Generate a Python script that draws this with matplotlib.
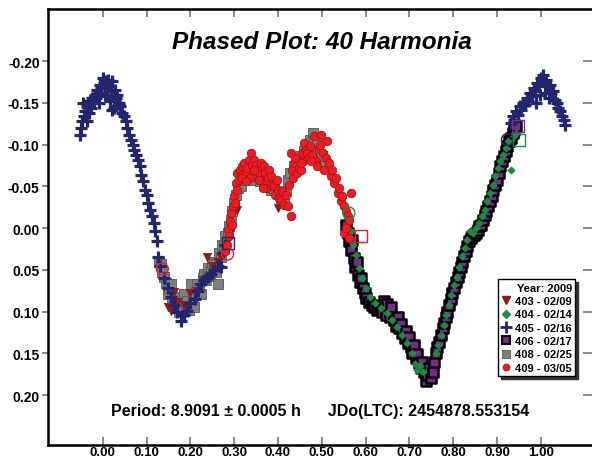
import matplotlib
matplotlib.use("Agg")
import matplotlib.pyplot as plt
from matplotlib.lines import Line2D

plt.rcParams['font.family'] = ['Liberation Sans', 'DejaVu Sans']
plt.rcParams['font.weight'] = 'bold'

# ---------------- data (phase, magnitude) ----------------
# 405 - 02/16 (blue plus)
s405_x = [-0.052, -0.050, -0.047, -0.045, -0.043, -0.040, -0.037, -0.035, -0.032, -0.030,
          -0.027, -0.024, -0.021, -0.018, -0.015, -0.012, -0.009, -0.006, -0.003, 0.000,
          0.003, 0.006, 0.009, 0.012, 0.015, 0.018, 0.021, 0.024, 0.027, 0.030,
          0.033, 0.036, 0.040, 0.044, 0.048, 0.052, 0.056, 0.060, 0.064, 0.068,
          0.072, 0.076, 0.080, 0.084, 0.088, 0.092, 0.096, 0.100, 0.104, 0.108,
          0.112, 0.116, 0.120, 0.124, 0.005, 0.010, 0.016, -0.008, 0.026, 0.020,
          0.125, 0.130, 0.140, 0.150, 0.155, 0.162, 0.170, 0.178, 0.185, 0.193,
          0.200, 0.210, 0.218, 0.224, 0.232, 0.240, 0.247, 0.255, 0.262, 0.269,
          0.275, 0.280,
          0.932, 0.936, 0.940, 0.944, 0.948, 0.952, 0.956, 0.960, 0.964, 0.968,
          0.972, 0.976, 0.980, 0.984, 0.988, 0.992, 0.996, 1.000, 1.004, 1.008,
          1.012, 1.016, 1.020, 1.024, 1.028, 1.032, 1.036, 1.040, 1.044, 1.048,
          1.052, 1.056, 0.998, 1.010, 0.990, 1.018]
s405_y = [-0.112, -0.120, -0.128, -0.150, -0.134, -0.140, -0.128, -0.146, -0.138, -0.152,
          -0.144, -0.156, -0.150, -0.160, -0.156, -0.166, -0.162, -0.172, -0.168, -0.180,
          -0.174, -0.176, -0.168, -0.178, -0.170, -0.164, -0.176, -0.160, -0.166, -0.156,
          -0.160, -0.150, -0.146, -0.138, -0.134, -0.128, -0.120, -0.112, -0.106, -0.100,
          -0.094, -0.088, -0.082, -0.074, -0.064, -0.056, -0.046, -0.040, -0.030, -0.022,
          -0.014, -0.006, 0.004, 0.016, -0.160, -0.158, -0.152, -0.150, -0.144, -0.142,
          0.035, 0.045, 0.060, 0.072, 0.083, 0.092, 0.100, 0.111, 0.104, 0.099,
          0.090, 0.085, 0.075, 0.067, 0.062, 0.058, 0.055, 0.050, 0.045, 0.047,
          0.030, 0.020,
          -0.126, -0.134, -0.130, -0.140, -0.136, -0.146, -0.142, -0.150, -0.148, -0.156,
          -0.152, -0.162, -0.158, -0.168, -0.164, -0.174, -0.170, -0.180, -0.184, -0.176,
          -0.178, -0.170, -0.172, -0.162, -0.164, -0.154, -0.150, -0.144, -0.140, -0.134,
          -0.130, -0.124, -0.160, -0.162, -0.150, -0.156]

# 408 - 02/25 (gray square)
s408_x = [0.128, 0.132, 0.136, 0.140, 0.144, 0.148, 0.152, 0.155, 0.158, 0.163,
          0.166, 0.171, 0.175, 0.180, 0.186, 0.190, 0.193, 0.198, 0.201, 0.205,
          0.208, 0.212, 0.216, 0.220, 0.224, 0.228, 0.231, 0.236, 0.240, 0.244,
          0.247, 0.250, 0.254, 0.258, 0.262, 0.265, 0.269, 0.272, 0.276, 0.280,
          0.285, 0.288, 0.292, 0.296, 0.300, 0.304, 0.308, 0.315, 0.322, 0.330,
          0.338, 0.345, 0.353, 0.360, 0.368, 0.376, 0.384, 0.391, 0.399, 0.406,
          0.414, 0.418, 0.422, 0.428, 0.437, 0.444, 0.452, 0.460, 0.467, 0.473,
          0.479, 0.483, 0.486, 0.490, 0.495, 0.500]
s408_y = [0.040, 0.043, 0.052, 0.059, 0.066, 0.079, 0.072, 0.067, 0.088, 0.083,
          0.094, 0.091, 0.100, 0.095, 0.079, 0.090, 0.087, 0.098, 0.067, 0.082,
          0.095, 0.076, 0.067, 0.072, 0.079, 0.060, 0.055, 0.062, 0.048, 0.057,
          0.051, 0.040, 0.043, 0.052, 0.067, 0.030, 0.035, 0.020, 0.022, 0.010,
          0.006, -0.002, -0.010, -0.020, -0.030, -0.040, -0.048, -0.050, -0.058, -0.062,
          -0.066, -0.058, -0.062, -0.056, -0.060, -0.054, -0.046, -0.048, -0.042, -0.036,
          -0.034, -0.045, -0.058, -0.066, -0.074, -0.080, -0.086, -0.092, -0.098, -0.106,
          -0.114, -0.104, -0.092, -0.100, -0.080, -0.086]

# 406 - 02/17 (purple square)
s406_x = [0.556, 0.560, 0.563, 0.566, 0.570, 0.573, 0.576, 0.580, 0.583, 0.587,
          0.590, 0.594, 0.598, 0.602, 0.608, 0.614, 0.620, 0.626, 0.632, 0.638,
          0.642, 0.646, 0.650, 0.655, 0.658, 0.664, 0.669, 0.673, 0.677, 0.680,
          0.684, 0.689, 0.692, 0.696, 0.700, 0.703, 0.707, 0.711, 0.715, 0.718,
          0.722, 0.726, 0.730, 0.734, 0.737, 0.741, 0.745, 0.749, 0.753,
          0.757, 0.760, 0.764, 0.768, 0.772, 0.776, 0.779, 0.783, 0.787, 0.791,
          0.795, 0.798, 0.802, 0.806, 0.810, 0.814, 0.817, 0.821, 0.825, 0.829,
          0.832, 0.836, 0.840, 0.844, 0.848, 0.852, 0.856, 0.860, 0.864, 0.868,
          0.872, 0.876, 0.880, 0.884, 0.888, 0.892, 0.896, 0.900, 0.904, 0.908,
          0.912, 0.916, 0.920, 0.924, 0.928, 0.932, 0.936, 0.940, 0.944]
s406_y = [-0.004, 0.006, 0.016, 0.026, 0.014, 0.036, 0.046, 0.040, 0.056, 0.064,
          0.060, 0.072, 0.078, 0.084, 0.088, 0.092, 0.094, 0.098, 0.096, 0.100,
          0.087, 0.104, 0.091, 0.106, 0.095, 0.110, 0.117, 0.107, 0.120, 0.115,
          0.126, 0.132, 0.123, 0.138, 0.130, 0.143, 0.150, 0.140, 0.156, 0.151,
          0.162, 0.168, 0.160, 0.172, 0.183, 0.176, 0.168, 0.180, 0.172,
          0.160, 0.150, 0.143, 0.136, 0.128, 0.120, 0.114, 0.106, 0.100, 0.092,
          0.085, 0.078, 0.072, 0.065, 0.058, 0.052, 0.046, 0.040, 0.034, 0.028,
          0.022, 0.016, 0.012, 0.010, 0.008, 0.006, 0.002, -0.002, -0.004, -0.010,
          -0.016, -0.020, -0.026, -0.032, -0.038, -0.046, -0.052, -0.058, -0.066, -0.074,
          -0.080, -0.086, -0.092, -0.098, -0.104, -0.108, -0.114, -0.118, -0.122]

# 403 - 02/09 (dark red triangle)
s403_x = [0.150, 0.155, 0.163, 0.170, 0.185, 0.200, 0.216, 0.230, 0.239, 0.250,
          0.262, 0.270, 0.278, 0.290, 0.300, 0.307, 0.399]
s403_y = [0.095, 0.099, 0.077, 0.088, 0.092, 0.078, 0.075, 0.062, 0.035, 0.045,
          0.040, 0.035, 0.025, 0.005, -0.025, -0.022, -0.024]

# 404 - 02/14 (green diamond)
s404_x = [0.560, 0.566, 0.572, 0.578, 0.585, 0.592, 0.600, 0.610, 0.622, 0.635,
          0.648, 0.660, 0.672, 0.684, 0.695, 0.705, 0.712, 0.718, 0.725, 0.732,
          0.760, 0.766, 0.772, 0.778, 0.784, 0.790, 0.796, 0.802, 0.808, 0.814,
          0.820, 0.826, 0.832, 0.838, 0.845, 0.852, 0.858, 0.865, 0.872, 0.878,
          0.884, 0.890, 0.896, 0.902, 0.908, 0.914, 0.920, 0.926, 0.932, 0.938, 0.944]
s404_y = [-0.010, 0.004, 0.020, 0.032, 0.048, 0.060, 0.072, 0.082, 0.090, 0.096,
          0.102, 0.110, 0.118, 0.128, 0.138, 0.150, 0.163, 0.170, 0.165, 0.172,
          0.150, 0.140, 0.128, 0.116, 0.104, 0.092, 0.080, 0.068, 0.058, 0.046,
          0.034, 0.024, 0.014, 0.004, 0.006, 0.000, -0.006, -0.014, -0.022, -0.032,
          -0.042, -0.052, -0.062, -0.072, -0.080, -0.088, -0.096, -0.104, -0.070, -0.110, -0.114]

# 409 - 03/05 (red circle)
s409_x = [0.280, 0.283, 0.285, 0.288, 0.290, 0.292, 0.295, 0.297, 0.300, 0.302,
          0.304, 0.306, 0.307, 0.310, 0.313, 0.316, 0.319, 0.323, 0.326, 0.330,
          0.333, 0.336, 0.338, 0.341, 0.345, 0.348, 0.351, 0.355, 0.358, 0.361,
          0.364, 0.368, 0.371, 0.374, 0.377, 0.380, 0.384, 0.387, 0.391, 0.394,
          0.397, 0.400, 0.403, 0.406, 0.410, 0.414, 0.418, 0.422, 0.425, 0.429,
          0.429, 0.432, 0.435, 0.437, 0.440, 0.444, 0.448, 0.452, 0.455, 0.458,
          0.460, 0.464, 0.467, 0.470, 0.474, 0.478, 0.483, 0.486, 0.490, 0.494,
          0.498, 0.502, 0.505, 0.509, 0.513, 0.516, 0.521, 0.524, 0.528, 0.532,
          0.536, 0.540, 0.543, 0.547, 0.551, 0.555, 0.559, 0.562, 0.566, 0.551,
          0.556, 0.562, 0.318, 0.328, 0.345, 0.356, 0.366, 0.452, 0.476, 0.495]
s409_y = [0.028, 0.020, 0.002, 0.010, -0.008, -0.018, -0.004, -0.026, -0.038, -0.030,
          -0.054, -0.046, -0.066, -0.058, -0.070, -0.062, -0.074, -0.078, -0.066, -0.072,
          -0.082, -0.060, -0.090, -0.076, -0.082, -0.068, -0.076, -0.070, -0.064, -0.078,
          -0.056, -0.074, -0.066, -0.048, -0.060, -0.070, -0.062, -0.052, -0.050, -0.040,
          -0.058, -0.046, -0.036, -0.034, -0.044, -0.028, -0.040, -0.026, -0.052, -0.014,
          -0.090, -0.070, -0.060, -0.078, -0.084, -0.066, -0.072, -0.070, -0.090, -0.080,
          -0.102, -0.094, -0.090, -0.084, -0.098, -0.088, -0.110, -0.080, -0.074, -0.096,
          -0.112, -0.090, -0.070, -0.084, -0.104, -0.078, -0.062, -0.070, -0.054, -0.060,
          -0.042, -0.048, -0.032, -0.038, -0.026, -0.020, -0.014, -0.010, -0.042, 0.006,
          0.000, 0.012, -0.060, -0.056, -0.070, -0.058, -0.048, -0.078, -0.080, -0.100]

# first-point (open) markers of the sessions
open_session = ['405', '404', '406', '409', '404', '409', '409', '405']
open_shape = ['o', 's', 's', 's', 'o', 'o', 'o', 's']
open_x = [0.924, 0.950, 0.947, 0.589, 0.562, 0.136, 0.285, 0.285]
open_y = [-0.106, -0.106, -0.122, 0.010, -0.018, 0.049, 0.031, 0.018]

legend_labels = ['403 - 02/09', '404 - 02/14', '405 - 02/16',
                 '406 - 02/17', '408 - 02/25', '409 - 03/05']
x_ticks = [0.00, 0.10, 0.20, 0.30, 0.40, 0.50, 0.60, 0.70, 0.80, 0.90, 1.00]
y_ticks = [-0.20, -0.15, -0.10, -0.05, 0.00, 0.05, 0.10, 0.15, 0.20]

title_text = 'Phased Plot: 40 Harmonia'
footer_text = 'Period: 8.9091 \u00b1 0.0005 h      JDo(LTC): 2454878.553154'
legend_title = 'Year: 2009'

# ---------------- styles ----------------
colors = {'403': '#8B1A1A', '404': '#1E8A45', '405': '#25256E',
          '406': '#7A2A8A', '408': '#7F7F7F', '409': '#EC1C24'}

fig = plt.figure(figsize=(5.92, 4.64), dpi=100)
ax = fig.add_axes([48 / 592, 18 / 464, 547.5 / 592, 436 / 464])

ax.scatter(s408_x, s408_y, marker='s', s=52, c=colors['408'], edgecolors='#555555',
           linewidths=0.6, zorder=2)
ax.scatter(s406_x, s406_y, marker='s', s=44, c=colors['406'], edgecolors='black',
           linewidths=1.8, zorder=3)
ax.scatter(s403_x, s403_y, marker='v', s=36, c=colors['403'], edgecolors=colors['403'],
           linewidths=0.5, zorder=4)
ax.scatter(s404_x, s404_y, marker='D', s=14, c=colors['404'], edgecolors=colors['404'],
           linewidths=0.5, zorder=4)
ax.scatter(s405_x, s405_y, marker='+', s=75, c=colors['405'], linewidths=2.3, zorder=5)
ax.scatter(s409_x, s409_y, marker='o', s=38, c=colors['409'], edgecolors='#9E1010',
           linewidths=0.5, zorder=6)
for sess, shp, xx, yy in zip(open_session, open_shape, open_x, open_y):
    ax.scatter([xx], [yy], marker=shp, s=75, facecolors='none', edgecolors=colors[sess],
               linewidths=1.0, zorder=7)

ax.set_xlim(-0.125, 1.125)
ax.set_ylim(0.2599, -0.2626)

ax.set_xticks(x_ticks)
ax.set_xticklabels(['%.2f' % v for v in x_ticks])
ax.set_yticks(y_ticks)
ax.set_yticklabels(['%.2f' % v for v in y_ticks])
ax.tick_params(axis='x', direction='in', length=6, width=1.2, color='#777777',
               top=True, labelsize=9.5, pad=1)
ax.tick_params(axis='y', direction='out', length=4, width=1.2, color='#777777',
               labelsize=10, pad=2)
for t in ax.get_xticklabels() + ax.get_yticklabels():
    t.set_fontweight('bold')

for side in ['left', 'top', 'bottom', 'right']:
    ax.spines[side].set_linewidth(1.8)

# right-side ticks pointing inward
axr = ax.twinx()
axr.set_ylim(ax.get_ylim())
axr.set_yticks(y_ticks)
axr.tick_params(axis='y', direction='in', length=9, width=1.2, color='#777777',
                labelright=False)
axr.set_zorder(ax.get_zorder() - 1)

ax.text(0.50, 0.9245, title_text, transform=ax.transAxes, ha='center', va='center',
        fontsize=17.5, fontweight='bold', fontstyle='italic')
ax.text(0.497, 0.078, footer_text, transform=ax.transAxes, ha='center', va='center',
        fontsize=11.5, fontweight='bold')

handles = [
    Line2D([], [], ls='none', marker='v', ms=6, mfc=colors['403'], mec=colors['403']),
    Line2D([], [], ls='none', marker='D', ms=4, mfc=colors['404'], mec=colors['404']),
    Line2D([], [], ls='none', marker='+', ms=8, mew=2, color=colors['405']),
    Line2D([], [], ls='none', marker='s', ms=6, mfc=colors['406'], mec='black', mew=1.5),
    Line2D([], [], ls='none', marker='s', ms=6, mfc=colors['408'], mec='#555555', mew=0.6),
    Line2D([], [], ls='none', marker='o', ms=5, mfc=colors['409'], mec='#9E1010', mew=0.5),
]
leg = ax.legend(handles, legend_labels, title=legend_title, loc='lower right',
                bbox_to_anchor=(0.963, 0.158), frameon=True, fancybox=False,
                shadow={'color': '#333333', 'alpha': 1.0}, edgecolor='black',
                prop={'size': 8, 'weight': 'bold'}, title_fontproperties={'size': 8, 'weight': 'bold'},
                handlelength=0.8, handletextpad=0.4, borderpad=0.3, labelspacing=0.3,
                borderaxespad=0, alignment='right')
leg.get_frame().set_linewidth(1.0)
leg.set_zorder(10)
ax.patch.set_visible(False)

fig.savefig('out.png', dpi=100)
